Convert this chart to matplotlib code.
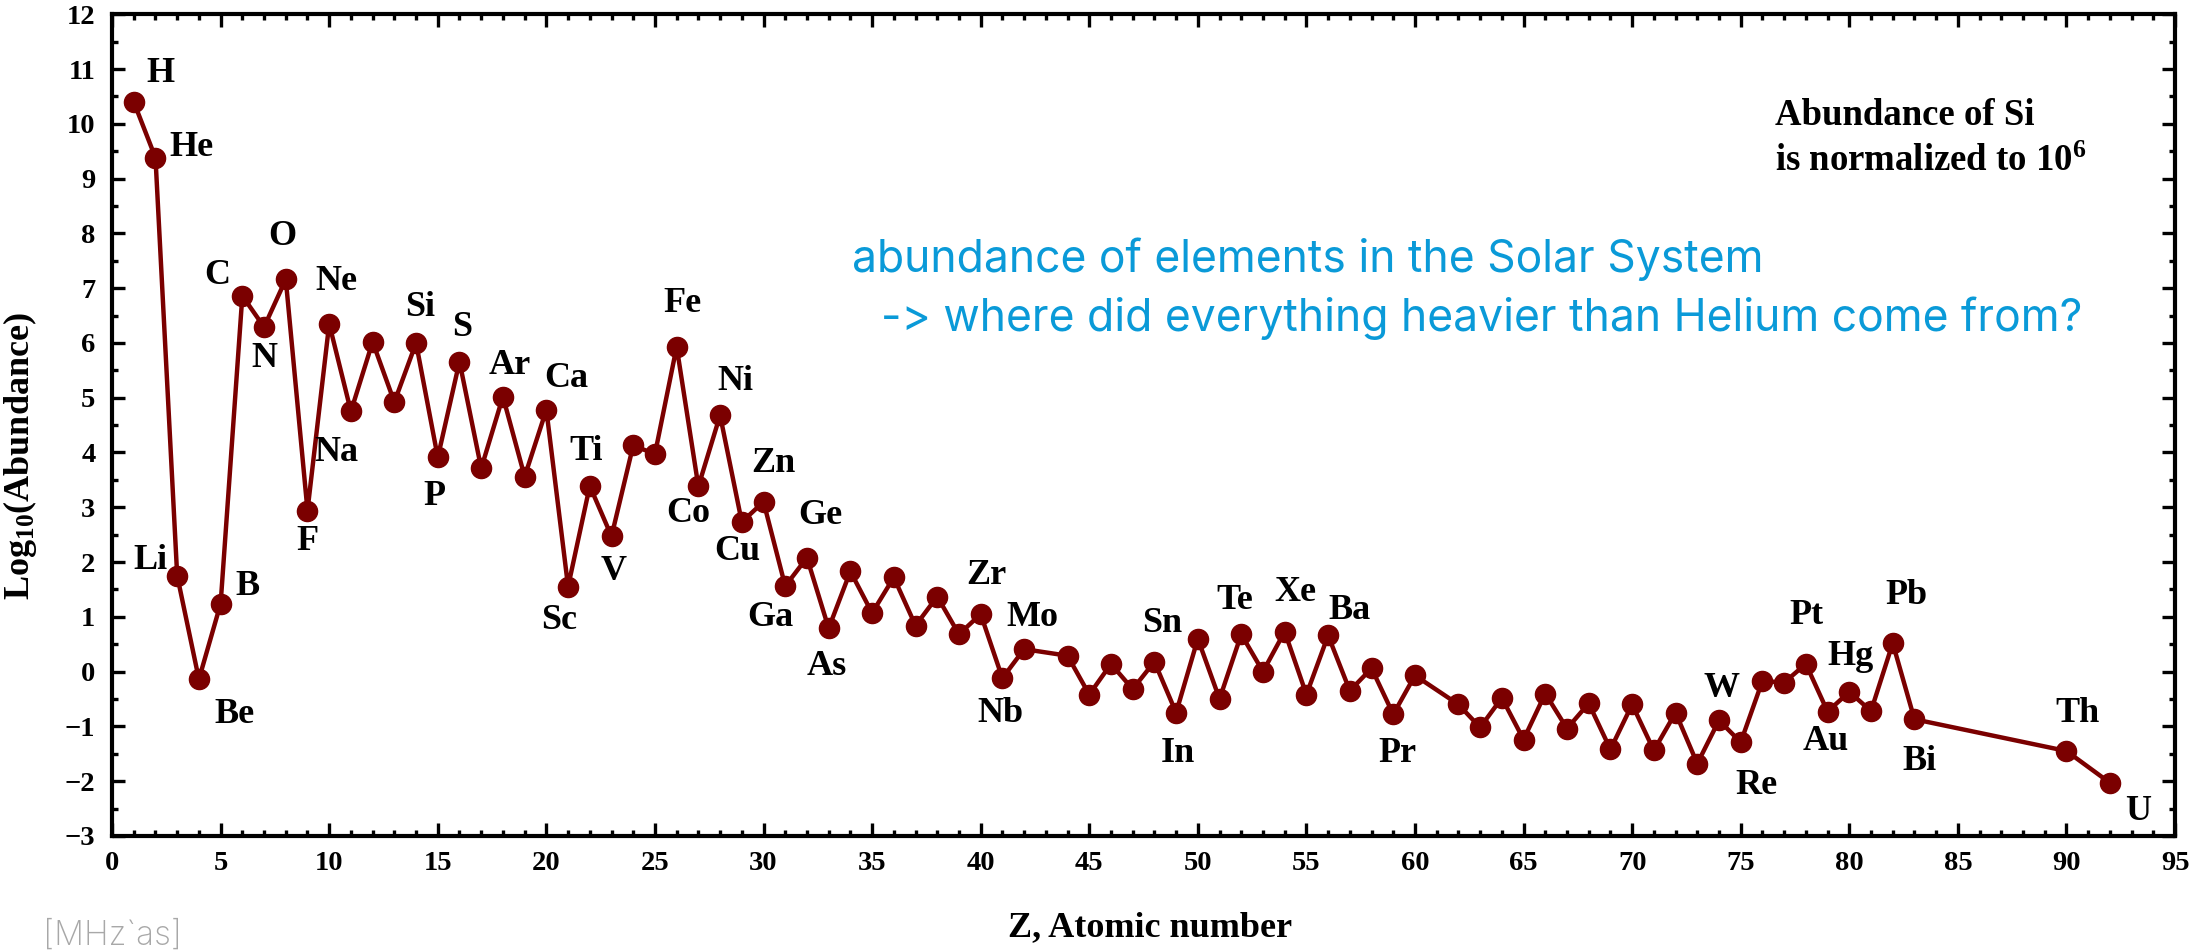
import matplotlib
matplotlib.use("Agg")
import matplotlib.pyplot as plt
from matplotlib.ticker import MultipleLocator

# atomic number, log10 abundance (Si = 10^6), symbol
Z = [1, 2, 3, 4, 5, 6, 7, 8, 9, 10, 11, 12, 13, 14, 15, 16, 17, 18, 19, 20,
     21, 22, 23, 24, 25, 26, 27, 28, 29, 30, 31, 32, 33, 34, 35, 36, 37, 38, 39, 40,
     41, 42, 44, 45, 46, 47, 48, 49, 50, 51, 52, 53, 54, 55, 56, 57, 58, 59, 60,
     62, 63, 64, 65, 66, 67, 68, 69, 70, 71, 72, 73, 74, 75, 76, 77, 78, 79, 80,
     81, 82, 83, 90, 92]
log_abund = [10.40, 9.38, 1.75, -0.14, 1.24, 6.86, 6.29, 7.16, 2.94, 6.35,
             4.75, 6.02, 4.92, 6.00, 3.91, 5.66, 3.71, 5.02, 3.56, 4.78,
             1.55, 3.39, 2.47, 4.13, 3.97, 5.93, 3.38, 4.68, 2.73, 3.10,
             1.56, 2.08, 0.79, 1.83, 1.07, 1.72, 0.84, 1.37, 0.68, 1.05,
             -0.12, 0.41, 0.29, -0.42, 0.14, -0.32, 0.18, -0.75, 0.60, -0.50,
             0.68, 0.00, 0.73, -0.42, 0.66, -0.35, 0.06, -0.78, -0.07,
             -0.60, -1.02, -0.48, -1.24, -0.40, -1.04, -0.58, -1.42, -0.60, -1.44,
             -0.75, -1.68, -0.89, -1.29, -0.17, -0.20, 0.14, -0.73, -0.37,
             -0.72, 0.52, -0.87, -1.45, -2.03]
symbols = ["H", "He", "Li", "Be", "B", "C", "N", "O", "F", "Ne",
           "Na", "Mg", "Al", "Si", "P", "S", "Cl", "Ar", "K", "Ca",
           "Sc", "Ti", "V", "Cr", "Mn", "Fe", "Co", "Ni", "Cu", "Zn",
           "Ga", "Ge", "As", "Se", "Br", "Kr", "Rb", "Sr", "Y", "Zr",
           "Nb", "Mo", "Ru", "Rh", "Pd", "Ag", "Cd", "In", "Sn", "Sb",
           "Te", "I", "Xe", "Cs", "Ba", "La", "Ce", "Pr", "Nd",
           "Sm", "Eu", "Gd", "Tb", "Dy", "Ho", "Er", "Tm", "Yb", "Lu",
           "Hf", "Ta", "W", "Re", "Os", "Ir", "Pt", "Au", "Hg",
           "Tl", "Pb", "Bi", "Th", "U"]

# which symbols get a label, and where (pixel offset from the point, y down)
label_offsets = {
    "H": (27, -28), "He": (36, -10), "Li": (-27, -15), "Be": (36, 35),
    "B": (27, -17), "C": (-25, -20), "N": (0, 31), "O": (-3, -43),
    "F": (0, 31), "Ne": (7, -42), "Na": (-14, 41), "Si": (4, -35),
    "P": (-3, 39), "S": (3, -34), "Ar": (7, -31), "Ca": (20, -31),
    "Sc": (-9, 34), "Ti": (-4, -34), "V": (2, 35), "Fe": (6, -43),
    "Co": (-10, 27), "Ni": (15, -34), "Cu": (-4, 29), "Zn": (10, -38),
    "Ga": (-15, 31), "Ge": (13, -42), "As": (-2, 38), "Zr": (6, -39),
    "Mo": (8, -32), "Nb": (-2, 35), "Sn": (-36, -15), "In": (2, 41),
    "Te": (-7, -34), "Xe": (11, -39), "Ba": (21, -25), "Pr": (4, 39),
    "W": (3, -32), "Re": (16, 43), "Pt": (1, -48), "Hg": (1, -35),
    "Au": (-2, 30), "Pb": (14, -48), "Bi": (5, 42), "Th": (11, -38),
    "U": (28, 29),
}

plt.rcParams['font.family'] = ['Liberation Serif', 'DejaVu Serif']
plt.rcParams['font.weight'] = 'bold'
plt.rcParams['xtick.labelsize'] = 20.5
plt.rcParams['ytick.labelsize'] = 20.5
plt.rcParams['mathtext.fontset'] = 'custom'
plt.rcParams['mathtext.rm'] = 'Liberation Serif:bold'
plt.rcParams['mathtext.it'] = 'Liberation Serif:bold'
plt.rcParams['mathtext.bf'] = 'Liberation Serif:bold'

dark_red = '#7b0000'

fig = plt.figure(figsize=(21.97, 9.51), dpi=100)
ax = fig.add_axes([0.051, 0.121, 0.939, 0.864])

ax.plot(Z, log_abund, '-o', color=dark_red, lw=3.2, markersize=14.5)

for z, v, s in zip(Z, log_abund, symbols):
    if s in label_offsets:
        dx, dy = label_offsets[s]
        ax.annotate(s, (z, v), xytext=(dx, -dy), textcoords='offset pixels',
                    ha='center', va='center', fontsize=26, fontweight='bold')

ax.set_xlim(0, 95)
ax.set_ylim(-3, 12)
ax.xaxis.set_major_locator(MultipleLocator(5))
ax.xaxis.set_minor_locator(MultipleLocator(1))
ax.yaxis.set_major_locator(MultipleLocator(1))
ax.yaxis.set_minor_locator(MultipleLocator(0.5))
ax.tick_params(which='both', direction='in', top=True, right=True, width=2.4)
ax.tick_params(which='major', length=9.5, labelsize=20.5)
ax.tick_params(which='minor', length=4.5)
ax.tick_params(axis='x', which='major', pad=11)
ax.tick_params(axis='y', which='major', pad=12)
for sp in ax.spines.values():
    sp.set_linewidth(3)
for lab in ax.get_xticklabels() + ax.get_yticklabels():
    lab.set_fontweight('bold')
    lab.set_fontsize(20.5)

ax.set_xlabel('Z, Atomic number', fontsize=26, fontweight='bold', va='center')
ax.xaxis.set_label_coords(0.503, -0.111)
ax.set_ylabel(r'Log$_{10}$(Abundance)', fontsize=26, fontweight='bold', va='center')
ax.yaxis.set_label_coords(-0.0446, 0.462)

ax.text(0.806, 0.865, 'Abundance of Si', transform=ax.transAxes,
        fontsize=26.5, fontweight='bold', ha='left', va='baseline')
ax.text(0.806, 0.809, r'is normalized to 10$^{6}$', transform=ax.transAxes,
        fontsize=26.5, fontweight='bold', ha='left', va='baseline')

fig.text(0.388, 0.714, 'abundance of elements in the Solar System',
         color='#0a9ad8', fontsize=32, family='Inter', fontweight='normal',
         ha='left', va='baseline')
fig.text(0.401, 0.652, '-> where did everything heavier than Helium come from?',
         color='#0a9ad8', fontsize=32, family='Inter', fontweight='normal',
         ha='left', va='baseline')

fig.text(0.0196, 0.016, '[MHz`as]', color='#a8a8a8', fontsize=24,
         family='Inter', fontweight='light', ha='left', va='center')

fig.savefig('out.png', dpi=100)
